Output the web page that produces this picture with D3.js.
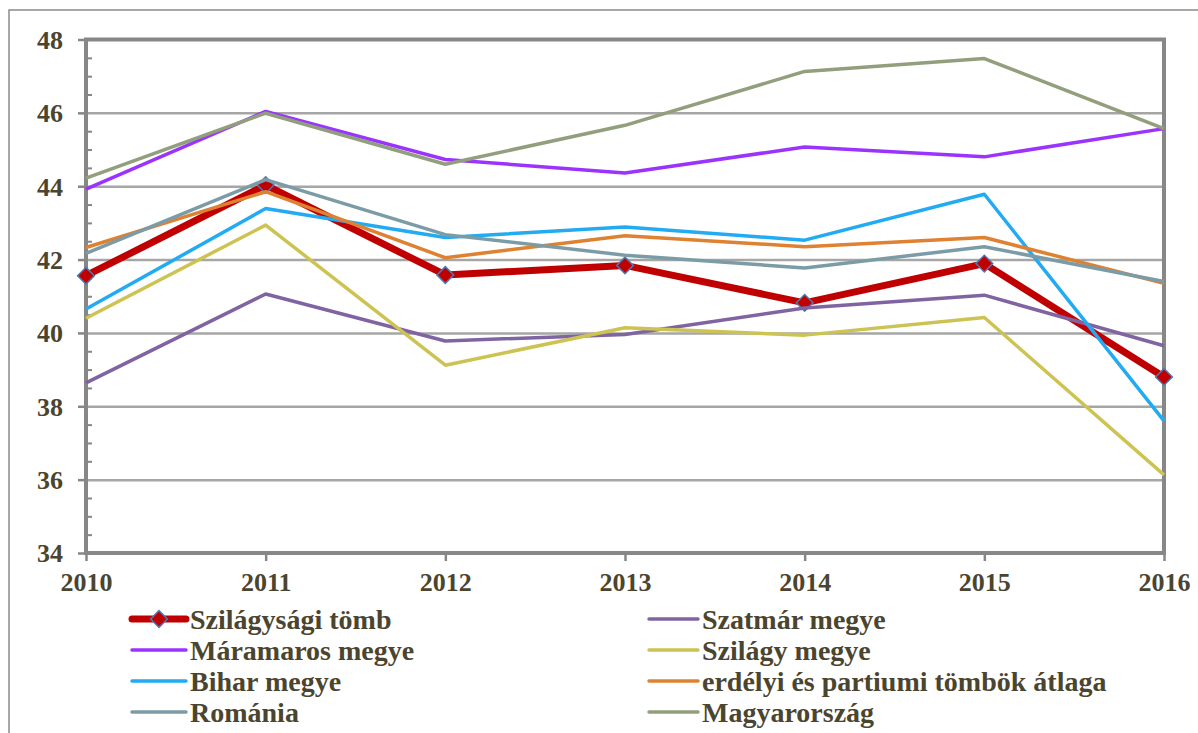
<!DOCTYPE html>
<html>
<head>
<meta charset="utf-8">
<script src="https://cdn.jsdelivr.net/npm/d3@7"></script>
<style>
  body { margin: 0; background: #fff; }
  svg { display: block; }
</style>
</head>
<body>
<div id="chart"></div>
<script>
const width = 1198;
const height = 733;
const fontFamily = 'Liberation Serif';
const textColor = '#4b4530';

const years = [2010, 2011, 2012, 2013, 2014, 2015, 2016];

const yTicks = [34, 36, 38, 40, 42, 44, 46, 48];

// values
const szilagysagiTomb = [41.56, 44.03, 41.58, 41.84, 40.82, 41.89, 38.80];
const szatmar = [38.64, 41.06, 39.78, 39.96, 40.68, 41.03, 39.65];
const maramaros = [43.92, 46.04, 44.73, 44.36, 45.07, 44.80, 45.57];
const szilagy = [40.40, 42.94, 39.12, 40.14, 39.94, 40.42, 36.13];
const bihar = [40.65, 43.39, 42.60, 42.89, 42.53, 43.78, 37.60];
const erdelyi = [42.33, 43.85, 42.05, 42.65, 42.35, 42.60, 41.35];
const romania = [42.17, 44.18, 42.68, 42.12, 41.77, 42.35, 41.40];
const magyarorszag = [44.22, 45.99, 44.60, 45.66, 47.13, 47.48, 45.57];

// drawing order = legend order (row by row)
const series = [
  { name: 'Szilágysági tömb', values: szilagysagiTomb, color: '#c00000', width: 7, marker: true },
  { name: 'Szatmár megye', values: szatmar, color: '#8064a2', width: 3.5 },
  { name: 'Máramaros megye', values: maramaros, color: '#9b33ff', width: 3.5 },
  { name: 'Szilágy megye', values: szilagy, color: '#cdc352', width: 3.5 },
  { name: 'Bihar megye', values: bihar, color: '#22abf2', width: 3.5 },
  { name: 'erdélyi és partiumi tömbök átlaga', values: erdelyi, color: '#de8232', width: 3.5 },
  { name: 'Románia', values: romania, color: '#7b9ca6', width: 3.5 },
  { name: 'Magyarország', values: magyarorszag, color: '#919f7d', width: 3.5 },
];

const svg = d3.select('#chart').append('svg')
  .attr('width', width)
  .attr('height', height);

// outer chart border (only top and left are visible in the picture)
svg.append('path')
  .attr('d', `M9,${height} L9,10 L${width},10`)
  .attr('fill', 'none')
  .attr('stroke', '#8a8a8a')
  .attr('stroke-width', 1.5);

const x = d3.scaleLinear().domain([2010, 2016]).range([86, 1164]);
const y = d3.scaleLinear().domain([34, 48]).range([553, 39.5]);

const styleText = g => g.selectAll('text')
  .attr('font-size', 26)
  .attr('font-family', fontFamily)
  .attr('font-weight', 'bold')
  .attr('fill', textColor);

// gridlines
svg.append('g')
  .attr('transform', `translate(${x(2010)},0)`)
  .call(d3.axisLeft(y).tickValues(yTicks.slice(1, -1)).tickSize(-(x(2016) - x(2010))).tickFormat(''))
  .call(g => g.select('.domain').remove())
  .call(g => g.selectAll('line').attr('stroke', '#a6a6a6').attr('stroke-width', 2.5));

// minor ticks, inside
const minorTicks = d3.range(34.5, 48, 0.5).filter(v => v % 2 !== 0);
svg.append('g')
  .attr('transform', `translate(${x(2010)},0)`)
  .call(d3.axisLeft(y).tickValues(minorTicks).tickSize(-6).tickFormat(''))
  .call(g => g.select('.domain').remove())
  .call(g => g.selectAll('line').attr('stroke', '#868686').attr('stroke-width', 2));

// y axis
svg.append('g')
  .attr('transform', `translate(${x(2010)},0)`)
  .call(d3.axisLeft(y).tickValues(yTicks).tickSize(8).tickPadding(15).tickSizeOuter(0))
  .call(g => g.select('.domain').remove())
  .call(g => g.selectAll('line').attr('stroke', '#868686').attr('stroke-width', 2.5))
  .call(styleText)
  .call(g => g.selectAll('text').attr('dy', '0.34em'));

// x axis
svg.append('g')
  .attr('transform', `translate(0,${y(34)})`)
  .call(d3.axisBottom(x).tickValues(years).tickFormat(d3.format('d')).tickSize(8).tickPadding(12).tickSizeOuter(0))
  .call(g => g.select('.domain').remove())
  .call(g => g.selectAll('line').attr('stroke', '#868686').attr('stroke-width', 2.5))
  .call(styleText);

// plot frame
svg.append('rect')
  .attr('x', x(2010))
  .attr('y', y(48))
  .attr('width', x(2016) - x(2010))
  .attr('height', y(34) - y(48))
  .attr('fill', 'none')
  .attr('stroke', '#878787')
  .attr('stroke-width', 4);

const line = d3.line()
  .x((d, i) => x(years[i]))
  .y(d => y(d));

const marker = d3.symbol(d3.symbolSquare, 140);

series.forEach(s => {
  svg.append('path')
    .attr('d', line(s.values))
    .attr('fill', 'none')
    .attr('stroke', s.color)
    .attr('stroke-width', s.width)
    .attr('stroke-linejoin', 'round');

  if (s.marker) {
    svg.append('g').selectAll('path')
      .data(s.values)
      .join('path')
      .attr('d', marker)
      .attr('transform', (d, i) => `translate(${x(years[i])},${y(d)}) rotate(45)`)
      .attr('fill', s.color)
      .attr('stroke', '#4a7ab5')
      .attr('stroke-width', 1.5);
  }
});

// legend, two columns
const legendCols = [
  { x0: 132, x1: 186, tx: 190 },
  { x0: 649, x1: 698, tx: 702 },
];
const legendRows = [619, 650, 681, 712];

const legend = svg.append('g');
series.forEach((s, i) => {
  const col = legendCols[i % 2];
  const ly = legendRows[Math.floor(i / 2)];
  const item = legend.append('g');
  item.append('line')
    .attr('x1', col.x0).attr('x2', col.x1)
    .attr('y1', ly).attr('y2', ly)
    .attr('stroke', s.color)
    .attr('stroke-width', s.width)
    .attr('stroke-linecap', 'round');
  if (s.marker) {
    item.append('path')
      .attr('d', marker)
      .attr('transform', `translate(${(col.x0 + col.x1) / 2},${ly}) rotate(45)`)
      .attr('fill', s.color)
      .attr('stroke', '#4a7ab5')
      .attr('stroke-width', 1.5);
  }
  item.append('text')
    .attr('x', col.tx)
    .attr('y', ly)
    .attr('dy', '0.34em')
    .attr('font-size', 28)
    .attr('font-family', fontFamily)
    .attr('font-weight', 'bold')
    .attr('fill', textColor)
    .text(s.name);
});
</script>
</body>
</html>
